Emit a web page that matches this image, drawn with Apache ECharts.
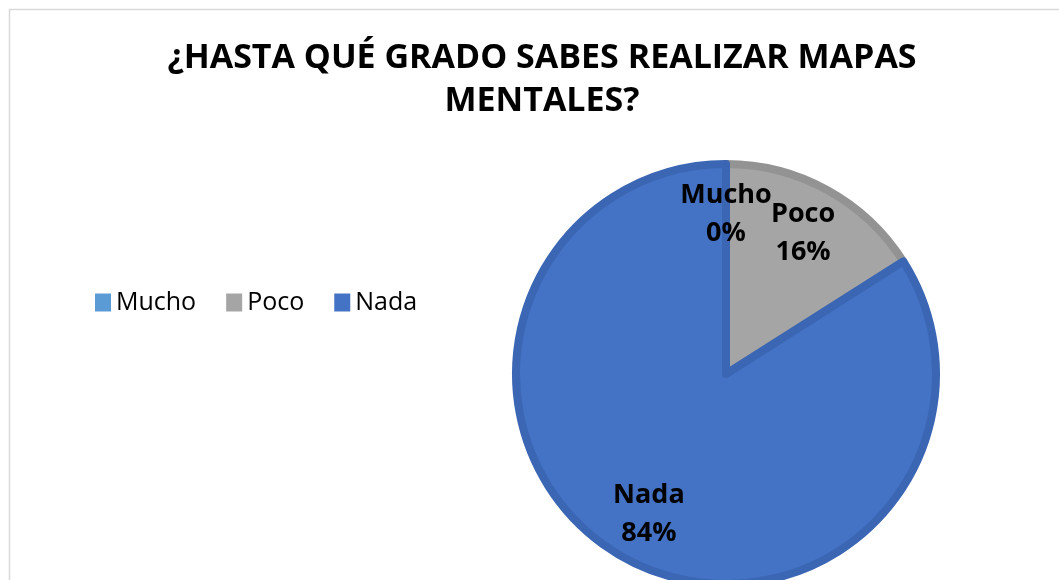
<!DOCTYPE html>
<html>
<head>
<meta charset="utf-8">
<style>
    html, body { margin: 0; padding: 0; background: #fff; }
    #main { width: 1059px; height: 580px; }
</style>
</head>
<body>
<div id="main"></div>
<script src="https://cdn.jsdelivr.net/npm/echarts@6/dist/echarts.min.js"></script>
<script>
    var categories = ['Mucho', 'Poco', 'Nada'];
    var values = [0, 16, 84];
    var colors = ['#5B9BD5', '#A5A5A5', '#4472C4'];
    var borderColors = ['#4f8ac0', '#939393', '#3b66b4'];

    var myChart = echarts.init(document.getElementById('main'));

    var pieData = categories.map(function (name, i) {
        return {
            name: name,
            value: values[i],
            itemStyle: { color: colors[i], borderColor: borderColors[i] }
        };
    });
    // second ring only carries the labels, placed at ~3/4 of the radius
    var labelData = categories.map(function (name, i) {
        return { name: name, value: values[i] };
    });

    var option = {
        animation: false,
        graphic: [{
            type: 'rect',
            shape: { x: 9.5, y: 9.5, width: 1100, height: 620 },
            style: { fill: 'none', stroke: '#d9d9d9', lineWidth: 1.5 },
            silent: true
        }],
        title: {
            text: '¿HASTA QUÉ GRADO SABES REALIZAR MAPAS\nMENTALES?',
            left: 537,
            top: 32,
            textAlign: 'center',
            textStyle: {
                fontFamily: 'Open Sans',
                fontWeight: 'bold',
                fontSize: 34,
                lineHeight: 43,
                color: '#000'
            }
        },
        legend: {
            orient: 'horizontal',
            left: 90,
            top: 285,
            itemWidth: 16,
            itemHeight: 18,
            itemGap: 30,
            icon: 'rect',
            data: categories,
            itemStyle: { borderWidth: 0, borderColor: 'transparent' },
            textStyle: { fontFamily: 'Open Sans', fontSize: 25, color: '#000', padding: [0, 0, 0, 0] }
        },
        series: [
            {
                type: 'pie',
                center: [726, 374],
                radius: [0, 210],
                startAngle: 90,
                clockwise: true,
                silent: true,
                stillShowZeroSum: true,
                itemStyle: { borderWidth: 8, borderJoin: 'round' },
                label: { show: false },
                labelLine: { show: false },
                data: pieData
            },
            {
                type: 'pie',
                center: [726, 374],
                radius: [104, 210],
                startAngle: 90,
                clockwise: true,
                silent: true,
                legendHoverLink: false,
                avoidLabelOverlap: false,
                itemStyle: { color: 'transparent', borderWidth: 0 },
                label: {
                    show: true,
                    position: 'inside',
                    formatter: '{b}\n{d}%',
                    fontFamily: 'Open Sans',
                    fontWeight: 'bold',
                    fontSize: 27,
                    lineHeight: 38,
                    color: '#000'
                },
                labelLayout: { hideOverlap: false },
                labelLine: { show: false },
                minShowLabelAngle: 0,
                data: labelData
            }
        ]
    };
    myChart.setOption(option);
</script>
</body>
</html>
